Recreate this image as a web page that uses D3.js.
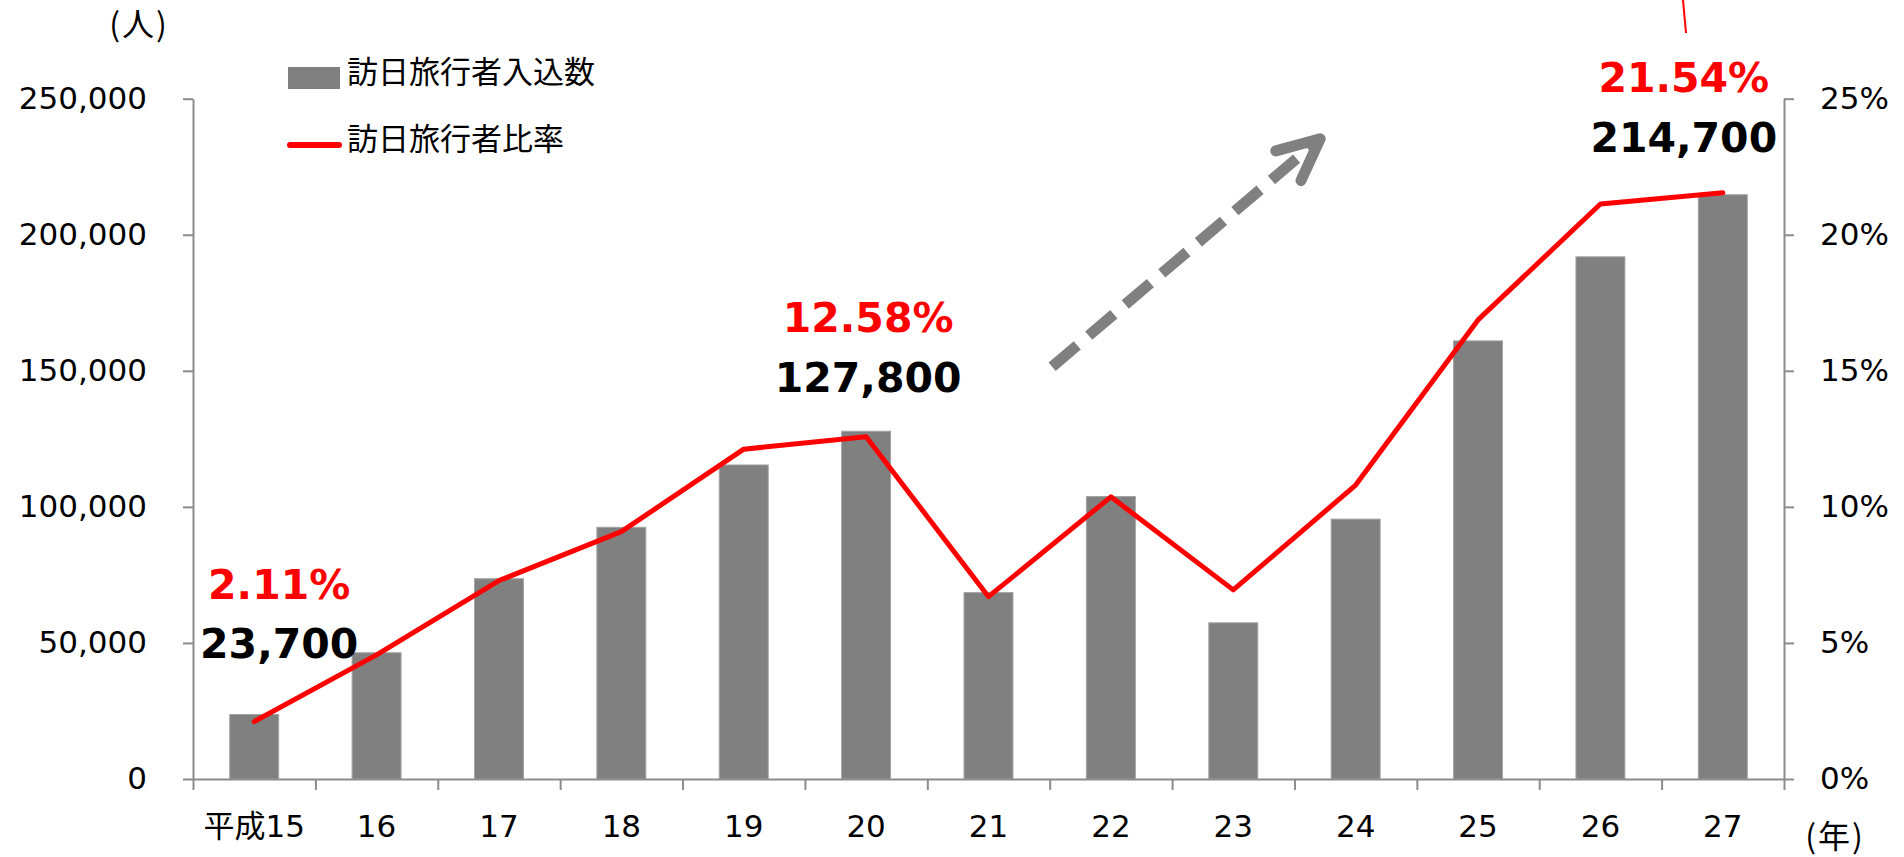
<!DOCTYPE html>
<html>
<head>
<meta charset="utf-8">
<script src="https://cdn.jsdelivr.net/npm/d3@7"></script>
<style>
  body { margin: 0; background: #fff; }
  svg { display: block; }
  .tick text { font-family: "DejaVu Sans", "Noto Sans CJK JP", sans-serif; fill: #000; }
</style>
</head>
<body>
<svg id="chart" width="1904" height="857"></svg>
<script>
// 訪日旅行者 入込数 と 比率 (平成15〜27年)
const years = ["平成15", "16", "17", "18", "19", "20", "21", "22", "23", "24", "25", "26", "27"];
const visitors = [23700, 46400, 73600, 92500, 115400, 127800, 68500, 103800, 57400, 95500, 161000, 191900, 214700];
const ratio = [2.11, 4.56, 7.29, 9.09, 12.12, 12.58, 6.70, 10.37, 6.95, 10.80, 16.87, 21.13, 21.54];
const leftTicks = [0, 50000, 100000, 150000, 200000, 250000];
const rightTicks = [0, 5, 10, 15, 20, 25];
const legendLabels = ["訪日旅行者入込数", "訪日旅行者比率"];
const callouts = [0, 5, 12]; // indexes with value labels

(function() {
    const svg = d3.select("#chart");
    const left = 193, right = 1784, top = 98.7, bottom = 779;
    const axisColor = "#8c8c8c";

    const x = d3.scaleBand().domain(years).range([left, right])
        .paddingInner(0.6).paddingOuter(0.3);
    const xEdge = d3.scaleLinear().domain([0, years.length]).range([left, right]);
    const yL = d3.scaleLinear().domain([0, 250000]).range([bottom, top]);
    const yR = d3.scaleLinear().domain([0, 25]).range([bottom, top]);

    // bars
    svg.append("g").selectAll("rect")
        .data(visitors)
        .join("rect")
        .attr("x", (d, i) => x(years[i]))
        .attr("y", d => yL(d))
        .attr("width", x.bandwidth())
        .attr("height", d => bottom - yL(d))
        .attr("fill", "#808080")
        .attr("stroke", "#a3a3a3")
        .attr("stroke-width", 1);

    // axes
    const gL = svg.append("g").attr("transform", `translate(${left},0)`)
        .call(d3.axisLeft(yL).tickValues(leftTicks).tickSize(10).tickSizeOuter(0)
            .tickPadding(36).tickFormat(d3.format(",")));
    const gR = svg.append("g").attr("transform", `translate(${right},0)`)
        .call(d3.axisRight(yR).tickValues(rightTicks).tickSize(10).tickSizeOuter(0)
            .tickPadding(26).tickFormat(d => d + "%"));
    const gX = svg.append("g").attr("transform", `translate(0,${bottom})`)
        .call(d3.axisBottom(xEdge).tickValues(d3.range(years.length + 1))
            .tickSize(11).tickSizeOuter(0).tickFormat(""));
    const gXL = svg.append("g").attr("transform", `translate(0,${bottom})`)
        .call(d3.axisBottom(x).tickSize(0).tickPadding(36));
    gXL.select(".domain").remove();

    [gL, gR, gX].forEach(g => {
        g.selectAll(".domain, .tick line").attr("stroke", axisColor).attr("stroke-width", 2);
    });
    [gL, gR, gXL].forEach(g => g.selectAll("text").style("font-size", "31px"));

    // ratio line
    const line = d3.line()
        .x((d, i) => x(years[i]) + x.bandwidth() / 2)
        .y(d => yR(d));
    svg.append("path")
        .datum(ratio)
        .attr("d", line)
        .attr("fill", "none")
        .attr("stroke", "#ff0000")
        .attr("stroke-width", 5)
        .attr("stroke-linejoin", "round")
        .attr("stroke-linecap", "round");

    // callout labels
    const offs = {0: [25, 599, 658], 5: [2, 332, 392], 12: [-39, 92, 152]};
    callouts.forEach(i => {
        const cx = x(years[i]) + x.bandwidth() / 2 + offs[i][0];
        svg.append("text").attr("x", cx).attr("y", offs[i][1])
            .attr("text-anchor", "middle")
            .style("font-family", "DejaVu Sans").style("font-weight", "bold")
            .style("font-size", "41px").attr("fill", "#ff0000")
            .text(ratio[i].toFixed(2) + "%");
        svg.append("text").attr("x", cx).attr("y", offs[i][2])
            .attr("text-anchor", "middle")
            .style("font-family", "DejaVu Sans").style("font-weight", "bold")
            .style("font-size", "41px").attr("fill", "#000")
            .text(d3.format(",")(visitors[i]));
    });

    // thin red leader at top (cut off)
    svg.append("line")
        .attr("x1", 1683).attr("y1", 0).attr("x2", 1686).attr("y2", 33)
        .attr("stroke", "#ff0000").attr("stroke-width", 2);

    // growth arrow (dashed)
    const a0 = [xEdge(7.02), yL(151500)], a1 = [xEdge(9.21), yL(235300)];
    svg.append("line")
        .attr("x1", a0[0]).attr("y1", a0[1]).attr("x2", a1[0] - 6).attr("y2", a1[1] + 5)
        .attr("stroke", "#808080").attr("stroke-width", 11)
        .attr("stroke-dasharray", "33,15");
    const ang = Math.atan2(a0[1] - a1[1], a0[0] - a1[0]);
    const armLen = 46, spread = 25 * Math.PI / 180;
    const arm = s => [a1[0] + armLen * Math.cos(ang + s), a1[1] + armLen * Math.sin(ang + s)];
    svg.append("path")
        .attr("d", d3.line()([arm(spread), a1, arm(-spread)]))
        .attr("fill", "none").attr("stroke", "#808080").attr("stroke-width", 11)
        .attr("stroke-linejoin", "round").attr("stroke-linecap", "round");

    // legend
    const lg = svg.append("g");
    lg.append("rect").attr("x", 288).attr("y", 67).attr("width", 52).attr("height", 22)
        .attr("fill", "#808080");
    lg.append("line").attr("x1", 290).attr("x2", 339).attr("y1", 145).attr("y2", 145)
        .attr("stroke", "#ff0000").attr("stroke-width", 6).attr("stroke-linecap", "round");
    lg.selectAll("text").data(legendLabels).join("text")
        .attr("x", 347).attr("y", (d, i) => i === 0 ? 83 : 150)
        .style("font-family", "Noto Sans CJK JP").style("font-size", "31px")
        .attr("fill", "#000").text(d => d);

    // unit labels
    svg.append("text").attr("x", 139).attr("y", 36).attr("text-anchor", "middle")
        .style("font-family", "Noto Sans CJK JP").style("font-size", "32px")
        .style("letter-spacing", "2px")
        .text("(人)");
    svg.append("text").attr("x", 1835).attr("y", 848).attr("text-anchor", "middle")
        .style("font-family", "Noto Sans CJK JP").style("font-size", "32px")
        .style("letter-spacing", "2px")
        .text("(年)");
})();
</script>
</body>
</html>
